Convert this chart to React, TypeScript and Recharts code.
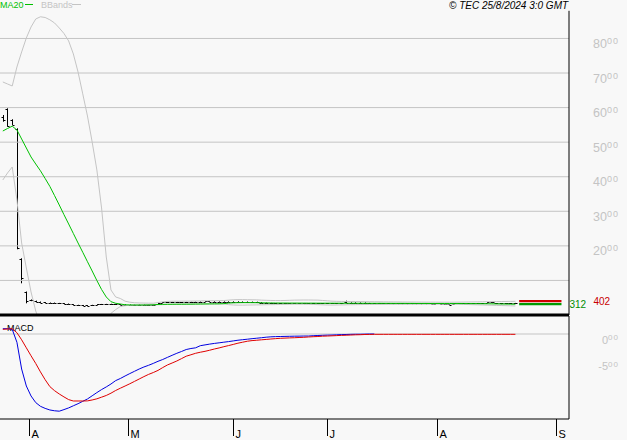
import React from "react";
import { ComposedChart, Line, Bar, XAxis, YAxis, ReferenceLine } from "recharts";

const FONT = '"Liberation Sans", Arial, sans-serif';
const GRID = "#c4c4c4";

// one slot per trading session, first session shown sits at slot 0.6
const slotDomain = [0, 121];
const monthTicks = [6.2, 27.3, 49.6, 69.6, 93.0, 118.2];
const monthLabels = ["A", "M", "J", "J", "A", "S"];
const priceTicks = [1000, 2000, 3000, 4000, 5000, 6000, 7000, 8000];
const macdTicks = [-500, 0];

const ma20 = [
  5323, 5395, 5462, 5352, 5092, 4831, 4571, 4368, 4172, 3949,
  3720, 3454, 3182, 2903, 2633, 2358, 2083, 1814, 1542, 1273,
  998, 738, 521, 385, 339, 318, 296, 292, 290, 289,
  290, 292, 295, 305, 308, 310, 311, 312, 312, 313,
  314, 316, 318, 320, 321, 322, 324, 328, 345, 352,
  356, 358, 358, 357, 356, 352, 350, 348, 347, 346,
  346, 345, 345, 344, 344, 343, 343, 342, 342, 342,
  341, 341, 340, 340, 340, 340, 339, 339, 338, 338,
  338, 337, 337, 336, 336, 336, 335, 335, 334, 334,
  334, 333, 333, 333, 332, 332, 331, 331, 330, 330,
  329, 328, 327, 325, 323, 321, 319, 317, 314, 312,
];

const bbUpper = [
  6741, 6683, 6625, 7175, 7609, 8014, 8332, 8563, 8627, 8607,
  8540, 8448, 8303, 8144, 7927, 7551, 7030, 6395, 5757, 5005,
  4195, 3096, 1678, 723, 521, 477, 400, 370, 355, 348,
  345, 342, 340, 360, 380, 395, 398, 400, 400, 402,
  402, 405, 408, 410, 412, 414, 415, 418, 430, 440,
  445, 445, 442, 440, 438, 430, 425, 420, 418, 418,
  420, 425, 430, 432, 434, 434, 432, 430, 420, 410,
  400, 395, 392, 390, 390, 388, 388, 385, 385, 383,
  382, 380, 380, 378, 378, 376, 375, 375, 374, 373,
  372, 372, 371, 370, 370, 370, 370, 372, 374, 376,
  378, 380, 382, 384, 386, 388, 390, 392, 394, 396,
];

const bbLower = [
  3906, 4108, 4282, 3327, 2083, 1360, 665, 116, -283, -709,
  -1100, -1540, -1939, -2338, -2661, -2835, -2864, -2767, -2673, -2459,
  -2199, -1620, -636, 47, 157, 246, 270, 280, 285, 288,
  290, 292, 294, 296, 300, 305, 308, 310, 312, 314,
  315, 316, 318, 318, 318, 320, 320, 322, 300, 290,
  285, 285, 288, 290, 292, 295, 298, 300, 302, 305,
  308, 310, 312, 312, 312, 310, 305, 300, 295, 290,
  288, 290, 292, 295, 298, 300, 302, 304, 305, 306,
  307, 308, 309, 310, 310, 310, 310, 311, 311, 312,
  312, 312, 313, 313, 314, 314, 312, 310, 306, 302,
  298, 294, 290, 286, 282, 278, 274, 270, 266, 262,
];

const priceOpen = [
  5728, 5960, 5640, 5381, 1620, 674, 440, 410, 380, 365,
  355, 350, 345, 335, 325, 305, 290, 280, 275, 280,
  300, 310, 315, 318, 312, 305, 300, 295, 290, 290,
  295, 290, 292, 330, 360, 368, 372, 370, 365, 372,
  375, 378, 382, 385, 395, 388, 385, 382, 386, 385,
  388, 385, 384, 380, 376, 360, 350, 342, 338, 340,
  336, 338, 340, 338, 336, 338, 340, 338, 336, 338,
  340, 338, 336, 380, 356, 358, 355, 356, 345, 338,
  340, 336, 338, 336, 335, 336, 334, 335, 334, 333,
  334, 333, 332, 333, 332, 310, 330, 338, 340, 336,
  338, 340, 338, 360, 366, 340, 335, 335, 338, 340,
];

const priceHigh = [
  5786, 5980, 5662, 5401, 1640, 680, 450, 415, 390, 372,
  362, 360, 350, 340, 332, 312, 296, 290, 285, 295,
  312, 320, 322, 325, 322, 315, 310, 305, 300, 302,
  305, 300, 305, 360, 372, 378, 380, 378, 376, 380,
  382, 386, 390, 405, 408, 396, 392, 392, 395, 394,
  396, 392, 390, 388, 385, 370, 358, 350, 346, 348,
  345, 346, 348, 345, 344, 346, 348, 346, 344, 346,
  348, 345, 344, 414, 364, 366, 362, 364, 350, 346,
  348, 344, 346, 342, 341, 342, 340, 341, 340, 339,
  340, 339, 338, 339, 338, 318, 345, 346, 348, 344,
  346, 348, 346, 372, 374, 345, 342, 345, 346, 350,
];

const priceLow = [
  5592, 5448, 5497, 1901, 917, 338, 400, 370, 350, 345,
  340, 340, 325, 318, 300, 282, 268, 265, 262, 270,
  295, 300, 305, 308, 300, 290, 285, 280, 278, 280,
  282, 280, 285, 320, 350, 355, 360, 358, 355, 362,
  365, 368, 372, 375, 380, 376, 374, 372, 375, 376,
  378, 375, 372, 370, 365, 345, 338, 330, 328, 330,
  328, 330, 330, 328, 326, 328, 330, 328, 326, 330,
  330, 328, 326, 345, 346, 348, 346, 345, 330, 328,
  330, 326, 328, 330, 329, 330, 328, 329, 328, 327,
  328, 327, 326, 327, 325, 290, 325, 328, 330, 326,
  328, 330, 328, 352, 356, 330, 328, 330, 328, 330,
];

const priceClose = [
  5650, 5470, 5510, 1938, 1062, 414, 420, 380, 360, 350,
  348, 356, 333, 325, 310, 289, 275, 272, 270, 288,
  310, 312, 318, 316, 305, 300, 295, 290, 285, 295,
  290, 288, 300, 356, 365, 370, 375, 368, 372, 376,
  378, 380, 385, 398, 390, 385, 382, 386, 385, 388,
  386, 384, 380, 378, 372, 350, 345, 338, 340, 336,
  338, 340, 338, 336, 338, 340, 338, 336, 338, 340,
  338, 336, 338, 356, 358, 355, 356, 352, 338, 340,
  336, 338, 340, 335, 336, 334, 335, 334, 333, 334,
  333, 332, 333, 332, 330, 298, 338, 340, 336, 338,
  340, 338, 342, 367, 362, 335, 333, 338, 340, 338,
];

const macdLine = [
  100, 100, 88, -156, -659, -979, -1167, -1291, -1361, -1400,
  -1430, -1445, -1453, -1423, -1391, -1351, -1312, -1267, -1223, -1163,
  -1103, -1046, -996, -941, -877, -837, -790, -745, -702, -659,
  -621, -589, -553, -514, -480, -440, -401, -363, -329, -292,
  -273, -260, -220, -205, -190, -177, -166, -154, -143, -130,
  -117, -107, -98, -88, -79, -70, -60, -53, -49, -47,
  -45, -43, -41, -40, -38, -38, -32, -28, -24, -21,
  -19, -15, -11, -9, -6, -4, -4, -2, 0, 0,
];

const signalLine = [
  88, 94, 100, 24, -109, -260, -410, -555, -713, -860,
  -990, -1067, -1129, -1184, -1235, -1261, -1261, -1261, -1259, -1242,
  -1220, -1189, -1157, -1114, -1063, -1020, -979, -937, -892, -847,
  -802, -760, -725, -685, -632, -583, -546, -508, -463, -418,
  -391, -363, -343, -326, -305, -282, -262, -239, -218, -196,
  -173, -154, -136, -124, -117, -109, -102, -94, -87, -81,
  -77, -73, -70, -66, -62, -56, -51, -47, -41, -38,
  -34, -30, -26, -23, -19, -15, -13, -9, -8, -6,
  -6, -6, -6, -6, -6, -6, -6, -6, -6, -6,
  -6, -6, -6, -6, -6, -6, -6, -6, -6, -6,
  -6, -6, -6, -6, -6, -6, -6, -6, -6, -6,
];

const lastPrice = 402;
const lastMa = 312;
const markerFrom = 110.4;
const markerTo = 119.4;

const priceData = ma20.map((m, i) => ({
  slot: i + 0.6,
  open: priceOpen[i],
  high: priceHigh[i],
  low: priceLow[i],
  close: priceClose[i],
  ma: m,
  upper: bbUpper[i],
  lower: bbLower[i],
}));

const macdData = signalLine.map((s, i) => ({
  slot: i + 0.6,
  macd: i < macdLine.length ? macdLine[i] : null,
  signal: s,
}));

// open tick on the left, close tick on the right
const OhlcBar = (props: any) => {
  const { x, y, width, height, payload } = props;
  if (!payload || x == null || y == null) return null;
  const top = Math.min(y, y + height);
  const bottom = Math.max(y, y + height);
  const span = payload.high - payload.low || 1;
  const at = (v: number) => top + ((payload.high - v) / span) * (bottom - top);
  const cx = Math.round(x + width / 2) + 0.5;
  const o = Math.round(at(payload.open)) + 0.5;
  const c = Math.round(at(payload.close)) + 0.5;
  return (
    <g stroke="#000" strokeWidth={1}>
      <line x1={cx} x2={cx} y1={top} y2={Math.max(bottom, top + 1)} />
      <line x1={cx - 2} x2={cx} y1={o} y2={o} />
      <line x1={cx} x2={cx + 2} y1={c} y2={c} />
    </g>
  );
};

const decimalTick = (size: number, sup: number, minValue: number, lift: number) => (props: any) => {
  const { x, y, payload } = props;
  const v = payload.value;
  if (v < minValue) return null;
  const whole = Math.trunc(v / 100);
  const cents = String(Math.abs(v) % 100).padStart(2, "0");
  return (
    <text x={x + 50} y={y + 9.5} textAnchor="end" fill={GRID} fontSize={size} fontFamily={FONT}>
      {whole}
      <tspan fontSize={sup} dy={-lift} letterSpacing={1}>{cents}</tspan>
    </text>
  );
};

const MonthTick = (props: any) => {
  const { x, y, index } = props;
  const px = Math.round(x) + 0.5;
  return (
    <g>
      <line x1={px} x2={px} y1={y} y2={y + 17} stroke="#000" />
      <text x={px + 2} y={y + 18.5} fontSize={11} fontFamily={FONT} fill="#000">
        {monthLabels[index]}
      </text>
    </g>
  );
};

export default function App() {
  return (
    <div style={{ position: "fixed", left: 0, top: 0, width: 627, height: 440, background: "#f8f8f8", overflow: "hidden" }}>
      <svg width={627} height={440} style={{ position: "absolute", left: 0, top: 0 }} fontFamily={FONT}>
        <text x={0} y={8.3} fontSize={9} fill="#00c000">MA20</text>
        <line x1={25} x2={33} y1={4.5} y2={4.5} stroke="#00c000" />
        <text x={41} y={8.3} fontSize={9} fill={GRID}>BBands</text>
        <line x1={72} x2={81} y1={4.5} y2={4.5} stroke={GRID} />
        <text x={449} y={8.5} fontSize={10} fontStyle="italic" fill="#000">© TEC 25/8/2024 3:0 GMT</text>
        <text x={7} y={331} fontSize={9} fill="#000">MACD</text>
      </svg>

      <div style={{ position: "absolute", left: 0, top: 0 }}>
        <ComposedChart width={627} height={320} data={priceData} margin={{ top: 10.8, right: 0, bottom: 5, left: 0 }}>
          <XAxis dataKey="slot" type="number" domain={slotDomain} allowDataOverflow hide />
          <YAxis
            orientation="right"
            width={58}
            type="number"
            domain={[0, 8800]}
            allowDataOverflow
            ticks={priceTicks}
            interval={0}
            axisLine={{ stroke: "#000" }}
            tickLine={false}
            tickSize={0}
            tickMargin={0}
            tick={decimalTick(12.5, 9, 2000, 4)}
          />
          {priceTicks.map((t) => (
            <ReferenceLine key={t} y={t} stroke={GRID} />
          ))}
          <Line dataKey="upper" stroke={GRID} strokeWidth={1} dot={false} isAnimationActive={false} />
          <Line dataKey="lower" stroke={GRID} strokeWidth={1} dot={false} isAnimationActive={false} />
          <Bar dataKey={(d: any) => [d.low, d.high]} barSize={5} shape={OhlcBar} isAnimationActive={false} />
          <Line dataKey="ma" stroke="#00c000" strokeWidth={1} dot={false} isAnimationActive={false} />
          <ReferenceLine
            segment={[{ x: markerFrom, y: lastPrice }, { x: markerTo, y: lastPrice }]}
            stroke="#d00000"
            strokeWidth={2.2}
            label={{ value: String(lastPrice), position: "right", offset: 32, fill: "#c80000", fontSize: 10, fontFamily: FONT }}
          />
          <ReferenceLine
            segment={[{ x: markerFrom, y: lastMa }, { x: markerTo, y: lastMa }]}
            stroke="#009a00"
            strokeWidth={2.2}
            label={{ value: String(lastMa), position: "right", offset: 8, fill: "#008c00", fontSize: 10, fontFamily: FONT }}
          />
          <ReferenceLine y={0} stroke="#000" strokeWidth={3} />
        </ComposedChart>
      </div>

      <div style={{ position: "absolute", left: 0, top: 300 }}>
        <ComposedChart width={627} height={140} data={macdData} margin={{ top: 16, right: 0, bottom: 0, left: 0 }}>
          <ReferenceLine y={0} stroke={GRID} />
          <XAxis
            dataKey="slot"
            type="number"
            domain={slotDomain}
            allowDataOverflow
            ticks={monthTicks}
            interval={0}
            height={21}
            axisLine={{ stroke: "#000" }}
            tickLine={false}
            tickSize={0}
            tickMargin={0}
            tick={MonthTick}
          />
          <YAxis
            orientation="right"
            width={58}
            type="number"
            domain={[-1600, 339]}
            allowDataOverflow
            ticks={macdTicks}
            interval={0}
            axisLine={{ stroke: "#000" }}
            tickLine={false}
            tickSize={0}
            tickMargin={0}
            tick={decimalTick(11, 8, -100000, 3.5)}
          />
          <Line dataKey="macd" stroke="#0000e0" strokeWidth={1} dot={false} connectNulls={false} isAnimationActive={false} />
          <Line dataKey="signal" stroke="#e00000" strokeWidth={1} dot={false} isAnimationActive={false} />
        </ComposedChart>
      </div>
    </div>
  );
}
